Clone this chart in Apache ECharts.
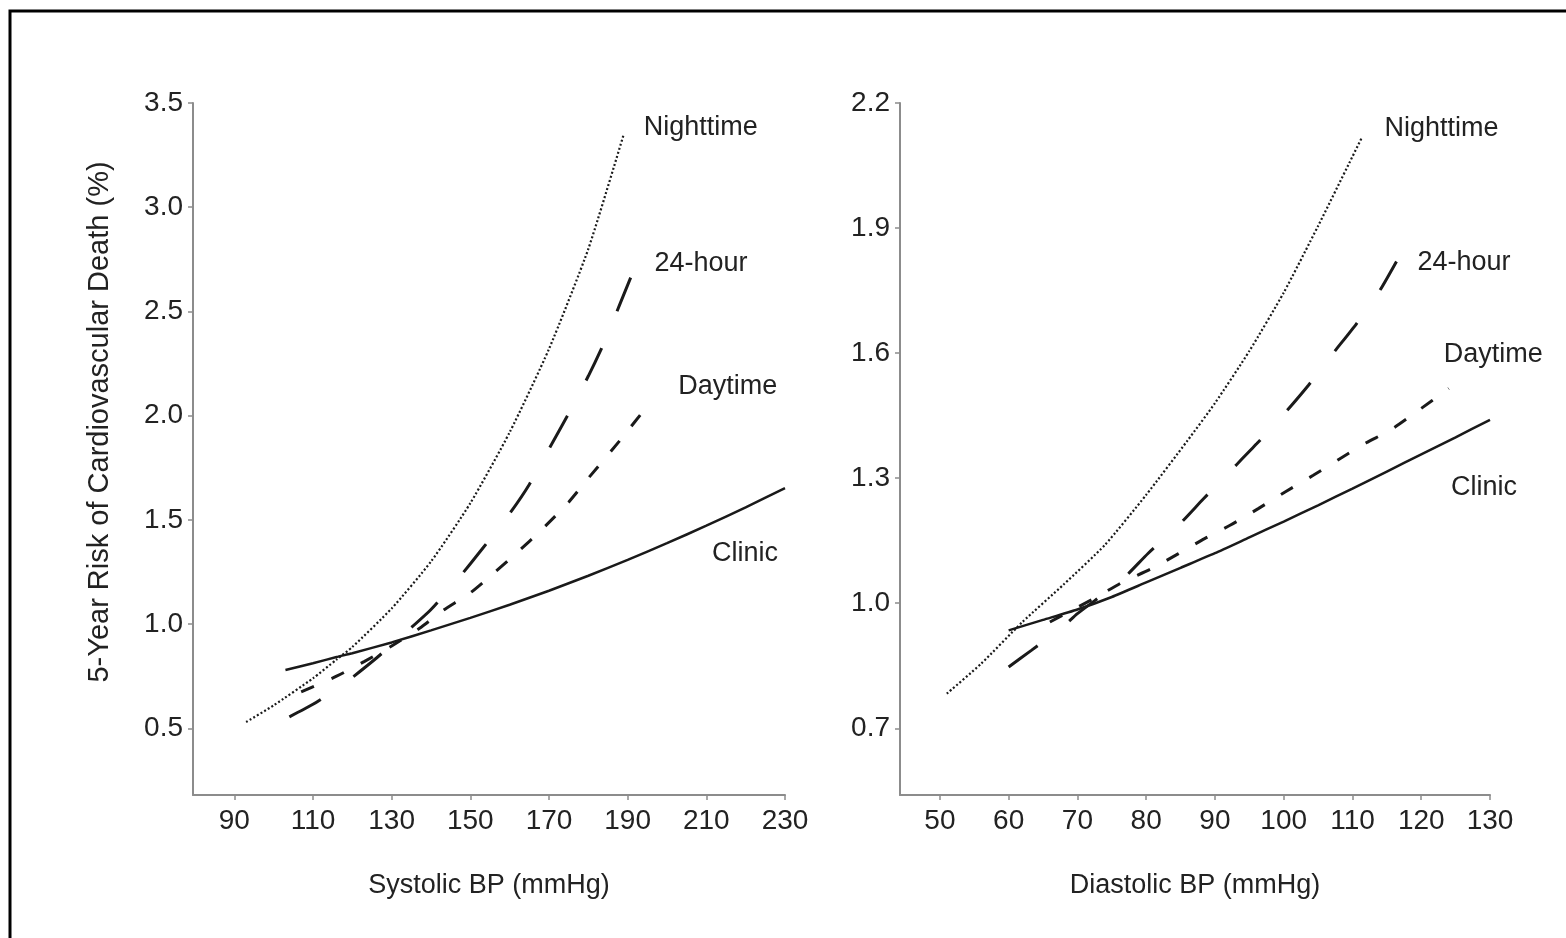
<!DOCTYPE html>
<html>
<head>
<meta charset="utf-8">
<script src="https://cdn.jsdelivr.net/npm/echarts@6/dist/echarts.min.js"></script>
<style>
  html, body { margin: 0; padding: 0; background: #fff; }
  #echart { width: 1566px; height: 938px; }
</style>
</head>
<body>
<div id="echart"></div>
<script>
// tick labels
var sysTicks = [90, 110, 130, 150, 170, 190, 210, 230];
var diaTicks = [50, 60, 70, 80, 90, 100, 110, 120, 130];
var sysRiskTicks = [0.5, 1.0, 1.5, 2.0, 2.5, 3.0, 3.5];
var diaRiskTicks = [0.7, 1.0, 1.3, 1.6, 1.9, 2.2];

// systolic BP curves [mmHg, risk %]
var sysNight = [[93, 0.53], [100, 0.61], [110, 0.74], [116, 0.83], [120, 0.89], [130, 1.075], [140, 1.3], [150, 1.58], [160, 1.92], [170, 2.32], [180, 2.8], [189, 3.35]];
var sys24h = [[104, 0.555], [110, 0.615], [118, 0.715], [126, 0.835], [133, 0.95], [140, 1.07], [147, 1.22], [153, 1.36], [160, 1.53], [165, 1.67], [170, 1.84], [175, 2.01], [180, 2.19], [184, 2.35], [192, 2.72]];
var sysDay = [[107, 0.675], [116, 0.75], [123, 0.82], [130, 0.895], [137.5, 0.985], [143, 1.065], [150, 1.15], [156, 1.245], [162, 1.345], [168, 1.45], [175, 1.585], [180, 1.7], [188, 1.88], [196, 2.07]];
var sysClinic = [[103, 0.78], [110, 0.812], [116, 0.842], [120, 0.86], [130, 0.912], [140, 0.97], [150, 1.03], [160, 1.093], [170, 1.16], [180, 1.232], [190, 1.308], [200, 1.388], [210, 1.472], [220, 1.56], [230, 1.652]];

// diastolic BP curves [mmHg, risk %]
var diaNight = [[51, 0.783], [56, 0.855], [62, 0.955], [68, 1.045], [74, 1.14], [80, 1.26], [86, 1.39], [90, 1.48], [95, 1.605], [100, 1.745], [105, 1.905], [111.3, 2.115]];
var dia24h = [[60, 0.847], [63.3, 0.887], [68, 0.945], [70, 0.975], [76.4, 1.055], [80.3, 1.12], [84.7, 1.187], [88.3, 1.25], [92.4, 1.32], [96.1, 1.383], [100, 1.453], [103.6, 1.523], [107.2, 1.6], [110.6, 1.671], [114, 1.751], [116.4, 1.82]];
var diaDay = [[66, 0.955], [72.8, 1.015], [76.5, 1.05], [80.8, 1.083], [84.7, 1.119], [88.5, 1.155], [92.2, 1.187], [96.3, 1.227], [100.2, 1.267], [104.3, 1.307], [108, 1.345], [112, 1.385], [115.5, 1.415], [119.3, 1.459], [124, 1.515]];
var diaClinic = [[60, 0.935], [65, 0.96], [70, 0.985], [75, 1.015], [80, 1.05], [85, 1.085], [90, 1.12], [95, 1.158], [100, 1.196], [105, 1.235], [110, 1.275], [115, 1.316], [120, 1.357], [125, 1.398], [130, 1.44]];

var FONT = "'Liberation Sans Narrow', 'Arial Narrow', 'Liberation Sans', sans-serif";
var TXT = '#222';
var AXIS = '#8c8c8c';

function xAxisOf(idx, min, max, ticks, name) {
    return {
        type: 'value', gridIndex: idx, min: min, max: max,
        name: name, nameLocation: 'middle', nameGap: 77,
        nameTextStyle: { fontFamily: FONT, fontSize: 27, color: TXT },
        splitLine: { show: false },
        axisLine: { lineStyle: { color: AXIS, width: 2 } },
        axisTick: { customValues: ticks, length: 5, lineStyle: { color: AXIS, width: 1.5 } },
        axisLabel: { customValues: ticks, margin: 12, fontFamily: FONT, fontSize: 28, color: TXT }
    };
}
function yAxisOf(idx, min, max, ticks) {
    return {
        type: 'value', gridIndex: idx, min: min, max: max,
        splitLine: { show: false },
        axisLine: { show: true, lineStyle: { color: AXIS, width: 2 } },
        axisTick: { show: true, customValues: ticks, length: 5, lineStyle: { color: AXIS, width: 1.5 } },
        axisLabel: {
            customValues: ticks, margin: 10, fontFamily: FONT, fontSize: 28, color: TXT,
            formatter: function (v) { return v.toFixed(1); }
        }
    };
}
function curve(idx, name, data, dash, width, off) {
    return {
        name: name, type: 'line', xAxisIndex: idx, yAxisIndex: idx,
        data: data, showSymbol: false, smooth: 0.2,
        lineStyle: { color: '#1a1a1a', width: width, type: dash },
        endLabel: {
            show: true, formatter: name, distance: 0, offset: off,
            align: 'left', verticalAlign: 'middle',
            fontFamily: FONT, fontSize: 27, color: TXT
        }
    };
}

var myChart = echarts.init(document.getElementById('echart'));
option = {
    animation: false,
    backgroundColor: '#fff',
    grid: [
        { left: 193, right: 781, top: 103, bottom: 143 },
        { left: 900, right: 76, top: 103, bottom: 143 }
    ],
    xAxis: [
        xAxisOf(0, 79.5, 230, sysTicks, 'Systolic BP (mmHg)'),
        xAxisOf(1, 44.2, 130, diaTicks, 'Diastolic BP (mmHg)')
    ],
    yAxis: [
        yAxisOf(0, 0.18, 3.5, sysRiskTicks),
        yAxisOf(1, 0.54, 2.2, diaRiskTicks)
    ],
    graphic: [
        { type: 'rect', shape: { x: 10, y: 11, width: 1600, height: 1000 },
          style: { fill: 'none', stroke: '#000', lineWidth: 3 } },
        { type: 'text', x: 100, y: 422, rotation: Math.PI / 2,
          style: { text: '5-Year Risk of Cardiovascular Death (%)', fontFamily: FONT, fontSize: 29,
                   fill: TXT, align: 'center', verticalAlign: 'middle' } }
    ],
    series: [
        curve(0, 'Nighttime', sysNight, [2, 2.2], 2.2, [20, -7]),
        curve(0, '24-hour', sys24h, [36, 40], 3, [19, -2]),
        curve(0, 'Daytime', sysDay, [14, 19], 3, [27, -15]),
        curve(0, 'Clinic', sysClinic, 'solid', 2.5, [-73, 65]),
        curve(1, 'Nighttime', diaNight, [2, 2.2], 2.2, [23, -10]),
        curve(1, '24-hour', dia24h, [36, 40], 3, [21, 1]),
        curve(1, 'Daytime', diaDay, [14, 19], 3, [-5, -34]),
        curve(1, 'Clinic', diaClinic, 'solid', 2.5, [-39, 68])
    ]
};
myChart.setOption(option);
</script>
</body>
</html>
